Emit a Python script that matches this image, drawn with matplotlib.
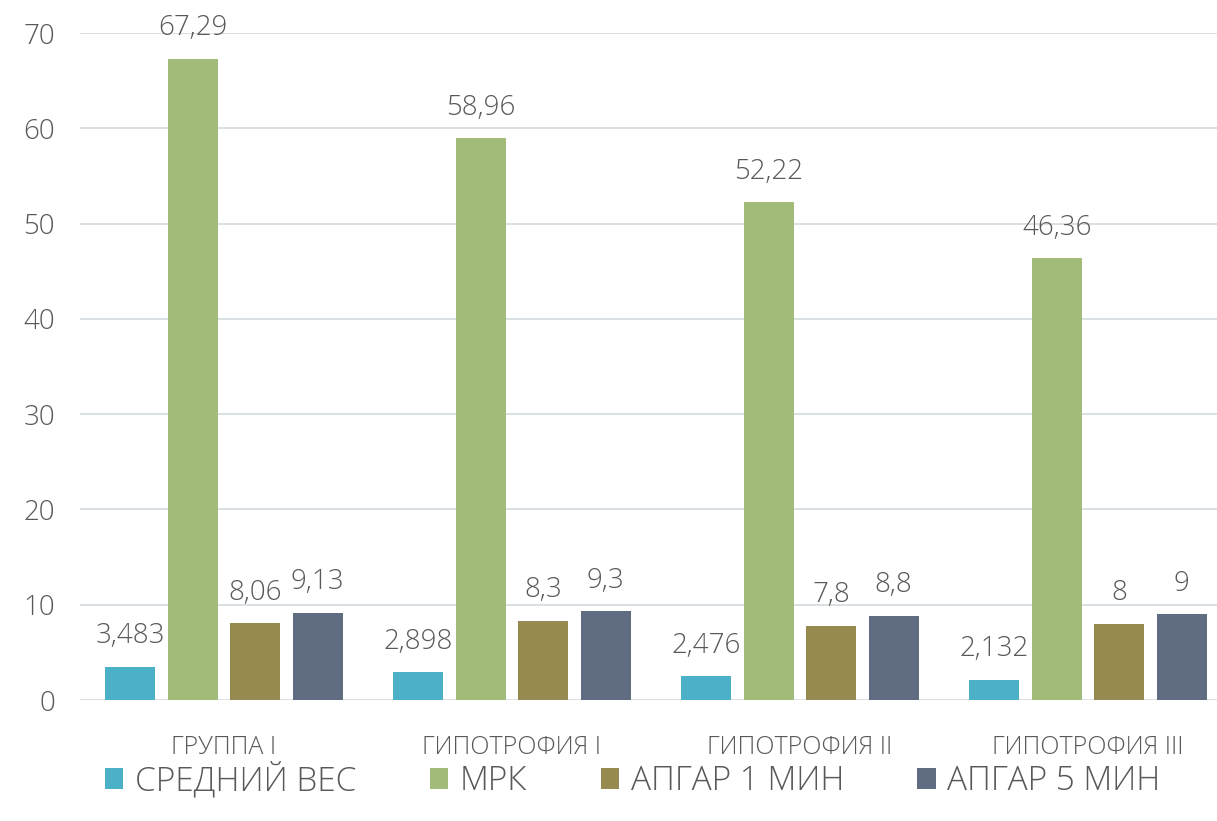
import matplotlib
matplotlib.use("Agg")
import matplotlib.pyplot as plt
import numpy as np

categories = ["ГРУППА I", "ГИПОТРОФИЯ I", "ГИПОТРОФИЯ II", "ГИПОТРОФИЯ III"]
series_names = ["СРЕДНИЙ ВЕС", "МРК", "АПГАР 1 МИН", "АПГАР 5 МИН"]
srednij_ves = [3.483, 2.898, 2.476, 2.132]
mrk = [67.29, 58.96, 52.22, 46.36]
apgar1 = [8.06, 8.3, 7.8, 8.0]
apgar5 = [9.13, 9.3, 8.8, 9.0]
labels_ves = ["3,483", "2,898", "2,476", "2,132"]
labels_mrk = ["67,29", "58,96", "52,22", "46,36"]
labels_a1 = ["8,06", "8,3", "7,8", "8"]
labels_a5 = ["9,13", "9,3", "8,8", "9"]
yticks = [0, 10, 20, 30, 40, 50, 60, 70]

colors = ["#4bb0c8", "#a3bb78", "#978a50", "#5f6c82"]
txt = "#595959"

plt.rcParams['font.family'] = ["Open Sans", "DejaVu Sans"]
plt.rcParams['font.weight'] = "light"

W, H = 1217, 821
fig = plt.figure(figsize=(W / 100, H / 100), dpi=100)
ax = fig.add_axes([80 / W, 121 / H, 1152 / W, 667 / H])

x = np.arange(len(categories))
bw = 0.174
step = 0.217
all_vals = [srednij_ves, mrk, apgar1, apgar5]
all_labels = [labels_ves, labels_mrk, labels_a1, labels_a5]
for i, (vals, labs) in enumerate(zip(all_vals, all_labels)):
    pos = x + (i - 1.5) * step
    ax.bar(pos, vals, width=bw, color=colors[i], label=series_names[i], zorder=3)
    for p, v, l in zip(pos, vals, labs):
        ax.annotate(l, (p, v), xytext=(0, 12), textcoords="offset points",
                    ha="center", va="bottom", fontsize=20, color=txt, zorder=4)

ax.set_xlim(-0.5, len(categories) - 0.5)
ax.set_ylim(0, 70)
ax.set_yticks(yticks)
ax.set_yticklabels([str(t) for t in yticks], fontsize=20, color=txt)
ax.yaxis.grid(True, color="#d6dee2", linewidth=1.3, zorder=0)
ax.set_axisbelow(True)
ax.tick_params(axis="y", length=0, pad=18)
ax.tick_params(axis="x", length=0, pad=25)
ax.set_xticks(x)
ax.set_xticklabels(categories, fontsize=18, color=txt)
for s in ax.spines.values():
    s.set_visible(False)

fig.legend(loc="center", bbox_to_anchor=(0.52, 1 - 780 / H), ncol=4, frameon=False,
           prop={"size": 24, "weight": "light"},
           handlelength=0.55, handleheight=0.55, handletextpad=0.35, columnspacing=2.2,
           labelcolor=txt)

fig.savefig("out.png", dpi=100)
